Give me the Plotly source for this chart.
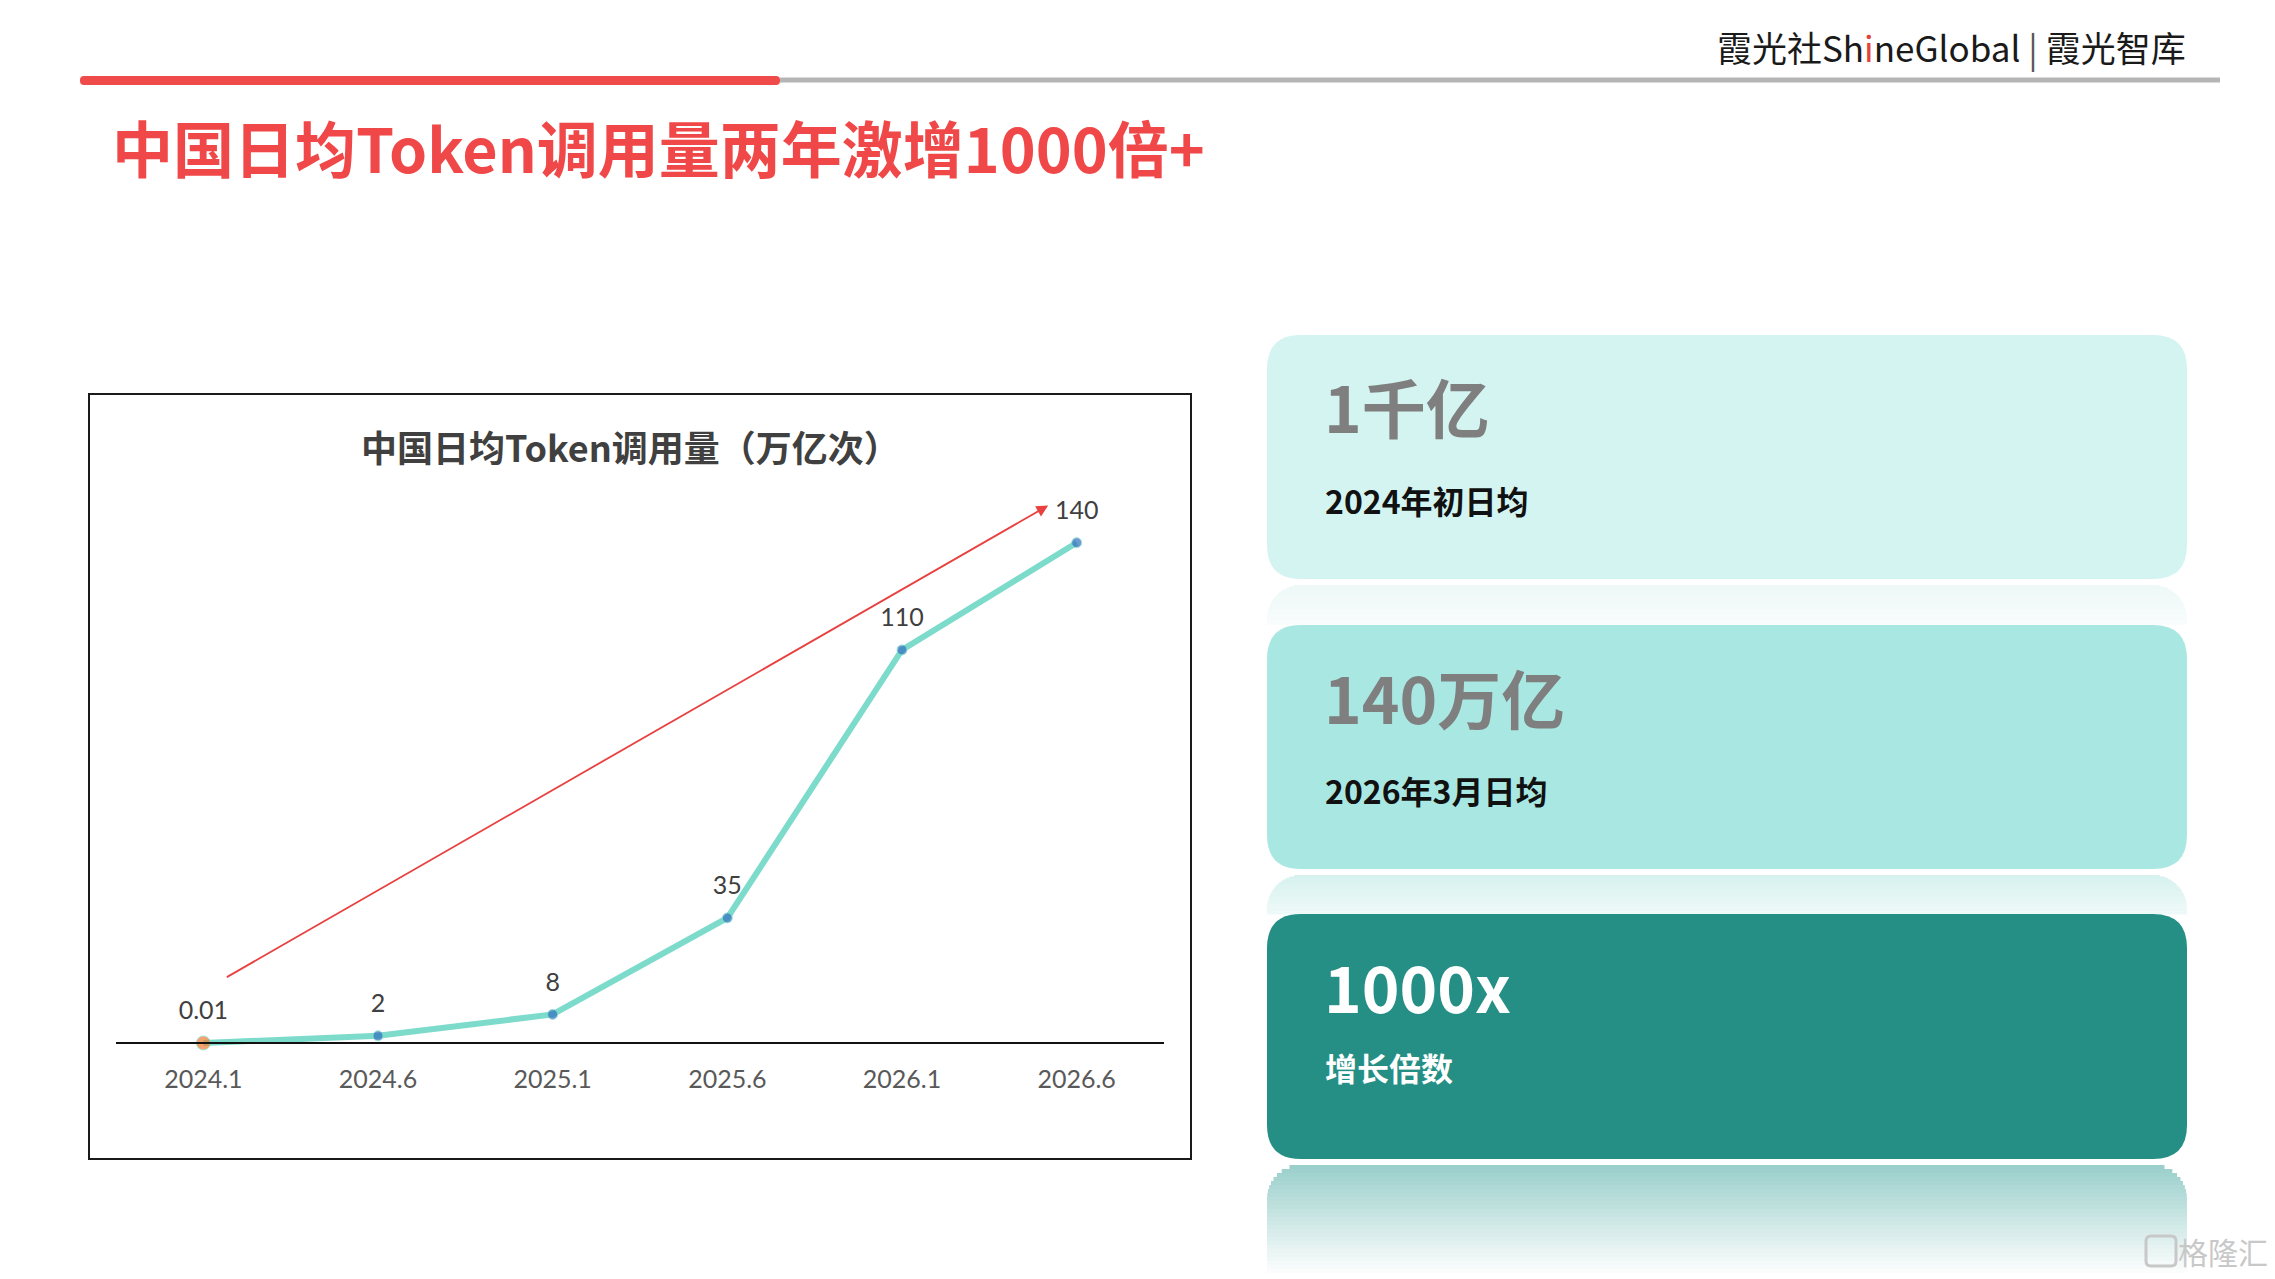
import plotly.graph_objects as go

# ---------------- data ----------------
categories = ["2024.1", "2024.6", "2025.1", "2025.6", "2026.1", "2026.6"]
values = [0.01, 2, 8, 35, 110, 140]
marker_colors = ["#ED7D31", "#2E6FBF", "#2E6FBF", "#2E6FBF", "#2E6FBF", "#2E6FBF"]
marker_sizes = [14, 10, 10, 10, 10, 10]

page_title = "中国日均Token调用量两年激增1000倍+"
chart_title = "中国日均Token调用量（万亿次）"
panel_big = ["1千亿", "140万亿", "1000x"]
panel_small = ["2024年初日均", "2026年3月日均", "增长倍数"]

# trend arrow (start index/value -> end index/value)
arrow_start = (0.126, 18.2)
arrow_end = (4.837, 150.4)

W, H = 2275, 1279
CJK = "Noto Sans CJK SC"


def X(x):
    return x / W


def Y(y):
    return 1 - y / H


def rrect_path(x0, y0, x1, y1, r):
    return (f"M {X(x0+r)},{Y(y0)} L {X(x1-r)},{Y(y0)} Q {X(x1)},{Y(y0)} {X(x1)},{Y(y0+r)} "
            f"L {X(x1)},{Y(y1-r)} Q {X(x1)},{Y(y1)} {X(x1-r)},{Y(y1)} "
            f"L {X(x0+r)},{Y(y1)} Q {X(x0)},{Y(y1)} {X(x0)},{Y(y1-r)} "
            f"L {X(x0)},{Y(y0+r)} Q {X(x0)},{Y(y0)} {X(x0+r)},{Y(y0)} Z")


def mix(c1, c2, t):
    a = [int(c1[i:i+2], 16) for i in (1, 3, 5)]
    b = [int(c2[i:i+2], 16) for i in (1, 3, 5)]
    return "#" + "".join(f"{round(a[k] + (b[k]-a[k])*t):02x}" for k in range(3))


shapes = []
annotations = []

# header lines
shapes.append(dict(type="line", xref="paper", yref="paper", x0=X(780), x1=X(2220), y0=Y(80), y1=Y(80),
                   line=dict(color="#B5B5B5", width=5)))
shapes.append(dict(type="path", xref="paper", yref="paper",
                   path=rrect_path(80, 76, 780, 85, 4), fillcolor="#F04B4B", line=dict(width=0)))

# chart frame
shapes.append(dict(type="rect", xref="paper", yref="paper", x0=X(89), x1=X(1191), y0=Y(394), y1=Y(1159),
                   line=dict(color="#1a1a1a", width=2), fillcolor="rgba(0,0,0,0)"))

# right panels
px0, px1, R = 1267, 2187, 34
panels = [(335, 579, "#D4F4F1"), (625, 869, "#A9E8E2"), (914, 1159, "#258F86")]
reflections = [(585, 624, "#EDF8F7", "#F8FCFC"), (875, 914, "#D6F1EE", "#EEF9F8"), (1165, 1277, "#9ACFCB", "#FFFFFF")]


def gradient_strips(y0, y1, ctop, cbot, r=R, n=28):
    h = (y1 - y0) / n
    for i in range(n):
        sy0 = y0 + i * h
        sy1 = sy0 + h + 0.6
        mid = sy0 + h / 2 - y0
        inset = 0.0
        if mid < r:
            d = r - mid
            inset = r - (r * r - d * d) ** 0.5
        shapes.append(dict(type="rect", xref="paper", yref="paper", layer="below",
                           x0=X(px0 + inset), x1=X(px1 - inset), y0=Y(sy0), y1=Y(sy1),
                           fillcolor=mix(ctop, cbot, i / (n - 1)), line=dict(width=0)))


for (ry0, ry1, ct, cb) in reflections:
    gradient_strips(ry0, ry1, ct, cb)

for (y0, y1, col) in panels:
    shapes.append(dict(type="path", xref="paper", yref="paper", layer="below",
                       path=rrect_path(px0, y0, px1, y1, R), fillcolor=col, line=dict(width=0)))

big_colors = ["#7F7F7F", "#7F7F7F", "#FFFFFF"]
small_colors = ["#111111", "#111111", "#FFFFFF"]
big_y = [405, 696, 985]
small_y = [500, 790, 1067]
for i in range(3):
    annotations.append(dict(xref="paper", yref="paper", x=X(1322), y=Y(big_y[i]), xanchor="left", yanchor="middle",
                            text=f"<b>{panel_big[i]}</b>", showarrow=False,
                            font=dict(family=CJK, size=64, color=big_colors[i])))
    annotations.append(dict(xref="paper", yref="paper", x=X(1323), y=Y(small_y[i]), xanchor="left", yanchor="middle",
                            text=f"<b>{panel_small[i]}</b>", showarrow=False,
                            font=dict(family=CJK, size=32, color=small_colors[i])))

# page title
annotations.append(dict(xref="paper", yref="paper", x=X(110), y=Y(146), xanchor="left", yanchor="middle",
                        text=f"<b>{page_title}</b>", showarrow=False,
                        font=dict(family=CJK, size=61, color="#F04848")))
# logo
annotations.append(dict(xref="paper", yref="paper", x=X(2188), y=Y(47), xanchor="right", yanchor="middle",
                        text="霞光社Sh<span style='color:#E0443C'>i</span>neGlobal<span style='color:#555'> | </span>霞光智库",
                        showarrow=False, font=dict(family=CJK, size=35, color="#1a1a1a")))
# chart title
annotations.append(dict(xref="paper", yref="paper", x=X(630), y=Y(446), xanchor="center", yanchor="middle",
                        text=f"<b>{chart_title}</b>", showarrow=False,
                        font=dict(family=CJK, size=36, color="#404040")))
# watermark
shapes.append(dict(type="path", xref="paper", yref="paper",
                   path=rrect_path(2146, 1236, 2176, 1266, 5), fillcolor="rgba(0,0,0,0)",
                   line=dict(color="#C8C8C8", width=3)))
annotations.append(dict(xref="paper", yref="paper", x=X(2270), y=Y(1251), xanchor="right", yanchor="middle",
                        text="格隆汇", showarrow=False, font=dict(family=CJK, size=30, color="#C8C8C8")))
# trend arrow
annotations.append(dict(xref="x", yref="y", axref="x", ayref="y",
                        x=arrow_end[0], y=arrow_end[1], ax=arrow_start[0], ay=arrow_start[1],
                        text="", showarrow=True, arrowhead=2, arrowsize=1.3, arrowwidth=1.8,
                        arrowcolor="#E8413F"))

fig = go.Figure()
fig.add_trace(go.Scatter(x=categories, y=values, mode="lines+markers",
                         line=dict(color="#7DDBCB", width=6),
                         marker=dict(color=marker_colors, size=marker_sizes),
                         cliponaxis=False, hoverinfo="skip", showlegend=False))
fig.add_trace(go.Scatter(x=categories, y=values, mode="markers+text",
                         text=[f"{v:g}" for v in values], textposition="top center",
                         textfont=dict(family="Lato", size=25, color="#404040"),
                         marker=dict(size=26, opacity=0),
                         cliponaxis=False, hoverinfo="skip", showlegend=False))

px_per_unit = (1043 - 542.7) / 140
fig.update_layout(
    width=W, height=H, margin=dict(l=0, r=0, t=0, b=0),
    paper_bgcolor="white", plot_bgcolor="rgba(0,0,0,0)",
    shapes=shapes, annotations=annotations,
    xaxis=dict(type="category", domain=[X(116), X(1164)], range=[-0.5, 5.5],
               anchor="free", position=Y(1043), showline=True, linecolor="#111111", linewidth=2,
               showgrid=False, zeroline=False, ticks="", ticklabelstandoff=14,
               tickfont=dict(family="Lato", size=25, color="#595959")),
    yaxis=dict(domain=[Y(1100), Y(470)],
               range=[-(1100 - 1043) / px_per_unit, (1043 - 470) / px_per_unit],
               visible=False, showgrid=False, zeroline=False),
)

fig.write_html("out.html")
